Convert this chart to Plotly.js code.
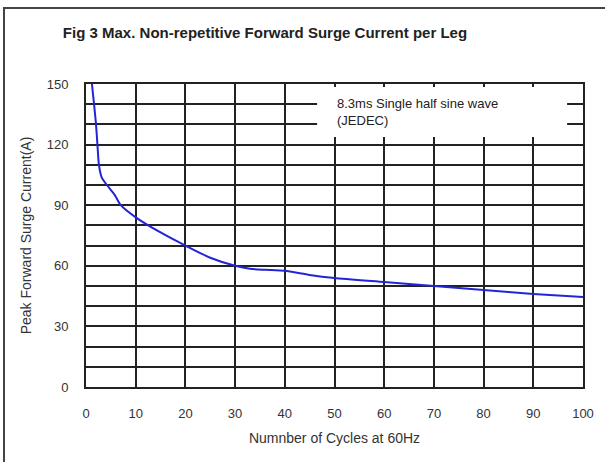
<!DOCTYPE html>
<html>
<head>
<meta charset="utf-8">
<script src="https://cdn.plot.ly/plotly-3.0.1.min.js"></script>
<style>
  html, body { margin: 0; padding: 0; background: #fff; }
  #frame { position: absolute; left: 3px; top: 7px; width: 700px; height: 600px; border-left: 2px solid #444; border-top: 2px solid #444; }
  #chart { position: absolute; left: 0; top: 0; width: 605px; height: 462px; }
</style>
</head>
<body>
<div id="frame"></div>
<div id="chart"></div>
<script>
const cycles = [1.15, 1.6, 2.0, 2.3, 2.6, 3.2, 4.2, 5.8, 7, 10, 15, 20, 25, 30, 33, 36, 40, 45, 50, 60, 70, 80, 90, 100];
const surgeCurrent = [151, 140.5, 130.5, 120, 110, 103.5, 100, 95, 90, 84, 76.5, 70, 64, 60, 58.5, 58, 57.5, 55.5, 54, 52, 50, 48, 46, 44.5];
const xTicks = [0, 10, 20, 30, 40, 50, 60, 70, 80, 90, 100];
const yTicks = [0, 30, 60, 90, 120, 150];
const titleText = 'Fig 3 Max. Non-repetitive Forward Surge Current per Leg';
const xTitle = 'Numnber of Cycles at 60Hz';
const yTitle = 'Peak Forward Surge Current(A)';
const noteText = '8.3ms Single half sine wave<br>(JEDEC)';

const font = 'Liberation Sans, Arial, sans-serif';

const trace = {
  x: cycles, y: surgeCurrent, mode: 'lines', type: 'scatter',
  line: { color: '#2424d6', width: 2, shape: 'spline', smoothing: 0.6 },
  hoverinfo: 'skip'
};

const layout = {
  width: 605, height: 462,
  margin: { l: 86, r: 22, t: 84, b: 75 },
  paper_bgcolor: 'rgba(0,0,0,0)', plot_bgcolor: '#fff',
  showlegend: false,
  font: { family: font, size: 13, color: '#333' },
  title: { text: '<b>' + titleText + '</b>', font: { family: font, size: 15, color: '#222' },
           xref: 'container', x: 0.438, xanchor: 'center', yref: 'container', y: 0.93, yanchor: 'middle' },
  xaxis: {
    range: [0, 100], tickvals: xTicks, ticktext: xTicks.map(String),
    showgrid: true, gridcolor: '#222', gridwidth: 2,
    showline: true, linecolor: '#222', linewidth: 2, mirror: true,
    zeroline: false, ticks: '', ticklabelstandoff: 13,
    tickfont: { family: font, size: 13, color: '#333' },
    title: { text: xTitle, font: { family: font, size: 14, color: '#333' }, standoff: 14 },
    fixedrange: true
  },
  yaxis: {
    range: [0, 150], tickvals: yTicks, ticktext: yTicks.map(String),
    showgrid: true, gridcolor: '#222', gridwidth: 2,
    minor: { dtick: 10, tick0: 0, showgrid: true, gridcolor: '#222', gridwidth: 2 },
    showline: true, linecolor: '#222', linewidth: 2, mirror: true,
    zeroline: false, ticks: '', ticklabelstandoff: 13,
    tickfont: { family: font, size: 13, color: '#333' },
    title: { text: yTitle, font: { family: font, size: 14, color: '#333' }, standoff: 12 },
    fixedrange: true
  },
  shapes: [
    { type: 'rect', xref: 'x', yref: 'y', x0: 46.5, x1: 96.8, y0: 123.8, y1: 148.5,
      fillcolor: '#fff', line: { width: 0 }, layer: 'between' }
  ],
  annotations: [
    { text: noteText, xref: 'x', yref: 'y', x: 50, y: 136, xanchor: 'left', yanchor: 'middle',
      align: 'left', showarrow: false, font: { family: font, size: 13, color: '#222' } }
  ]
};

Plotly.newPlot('chart', [trace], layout, { displayModeBar: false, staticPlot: true });
</script>
</body>
</html>
